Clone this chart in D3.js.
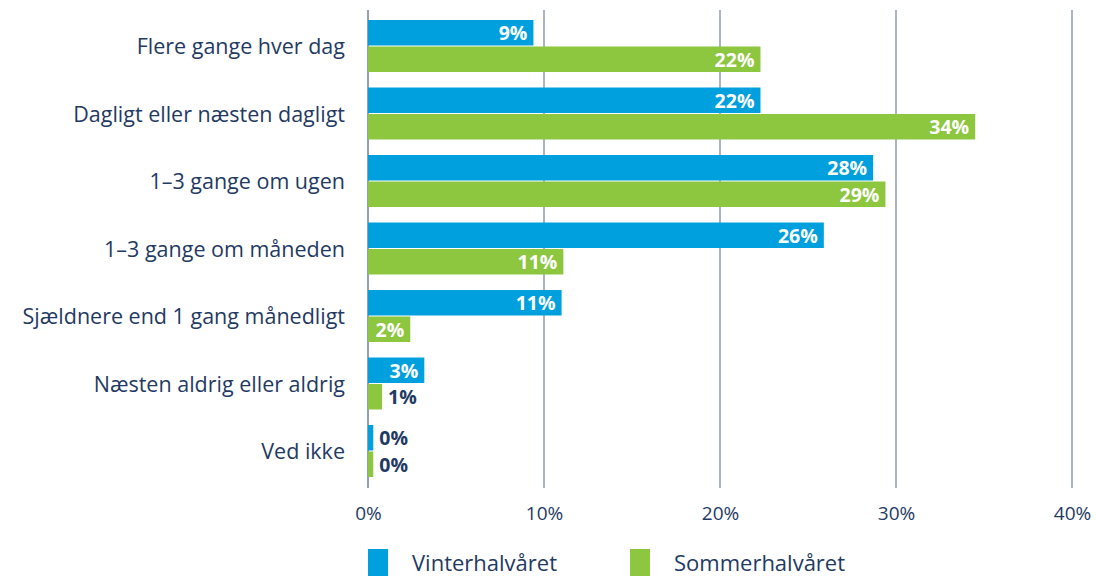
<!DOCTYPE html>
<html>
<head>
<meta charset="utf-8">
<script src="https://cdn.jsdelivr.net/npm/d3@7"></script>
<style>
  body { margin: 0; background: #fff; }
  svg { display: block; font-family: "Open Sans", sans-serif; }
</style>
</head>
<body>
<div id="chart"></div>
<script>
/* -----------------------
data
------------------------- */
var categories = ["Flere gange hver dag", "Dagligt eller næsten dagligt", "1–3 gange om ugen",
    "1–3 gange om måneden", "Sjældnere end 1 gang månedligt", "Næsten aldrig eller aldrig", "Ved ikke"];
var series = ["Vinterhalvåret", "Sommerhalvåret"];
var winter = [9.4, 22.3, 28.7, 25.9, 11.0, 3.2, 0.3];
var summer = [22.3, 34.5, 29.4, 11.1, 2.4, 0.8, 0.3];
var winterLabels = ["9%", "22%", "28%", "26%", "11%", "3%", "0%"];
var summerLabels = ["22%", "34%", "29%", "11%", "2%", "1%", "0%"];
var xTicks = [0, 10, 20, 30, 40];

/* -----------------------
setup
------------------------- */
var width = 1096, height = 576;
var colors = {"Vinterhalvåret": "#00a0df", "Sommerhalvåret": "#8dc63f"};
var navy = "#1f3a63";

var svg = d3.select("#chart").append("svg")
    .attr("width", width).attr("height", height);

var x = d3.scaleLinear().domain([0, 40]).range([368, 1072]);
var y = d3.scaleBand().domain(categories).range([20, 478]).paddingInner(0.215).paddingOuter(0);
var ySub = d3.scaleBand().domain(series).range([0, y.bandwidth()]);

// grid
svg.append("g").selectAll("line").data(xTicks).enter().append("line")
    .attr("x1", function(d) { return x(d); })
    .attr("x2", function(d) { return x(d); })
    .attr("y1", 10).attr("y2", 488)
    .attr("stroke", function(d) { return d === 0 ? "#6f7f99" : "#8c9bb2"; })
    .attr("stroke-width", 1.5);

// x axis labels
var xAxis = svg.append("g")
    .attr("transform", "translate(0,488)")
    .call(d3.axisBottom(x).tickValues(xTicks).tickSize(0).tickPadding(19)
        .tickFormat(function(d) { return d + "%"; }));
xAxis.select(".domain").remove();
xAxis.selectAll("text").attr("font-size", 19).attr("fill", navy)
    .attr("font-family", "\"Open Sans\", sans-serif");

// category labels
svg.append("g").selectAll("text").data(categories).enter().append("text")
    .attr("x", 345)
    .attr("y", function(d) { return y(d) + y.bandwidth() / 2; })
    .attr("dy", "0.35em")
    .attr("text-anchor", "end")
    .attr("font-size", 21.5)
    .attr("fill", navy)
    .text(function(d) { return d; });

// bars
var rows = [];
categories.forEach(function(c, i) {
    rows.push({cat: c, s: series[0], v: winter[i], lab: winterLabels[i]});
    rows.push({cat: c, s: series[1], v: summer[i], lab: summerLabels[i]});
});

svg.append("g").selectAll("rect").data(rows).enter().append("rect")
    .attr("x", x(0))
    .attr("y", function(d) { return y(d.cat) + ySub(d.s); })
    .attr("width", function(d) { return x(d.v) - x(0); })
    .attr("height", ySub.bandwidth() - 1)
    .attr("fill", function(d) { return colors[d.s]; });

svg.append("g").selectAll("text").data(rows).enter().append("text")
    .attr("x", function(d) {
        var w = x(d.v) - x(0);
        return w < 30 ? x(d.v) + 6 : x(d.v) - 6;
    })
    .attr("y", function(d) { return y(d.cat) + ySub(d.s) + ySub.bandwidth() / 2; })
    .attr("dy", "0.35em")
    .attr("text-anchor", function(d) { return x(d.v) - x(0) < 30 ? "start" : "end"; })
    .attr("font-size", 19.5)
    .attr("font-weight", "bold")
    .attr("fill", function(d) { return x(d.v) - x(0) < 30 ? navy : "#fff"; })
    .text(function(d) { return d.lab; });

// legend
var legend = svg.append("g").selectAll("g").data(series).enter().append("g")
    .attr("transform", function(d, i) { return "translate(" + (368 + i * 262) + ",549)"; });
legend.append("rect").attr("width", 20).attr("height", 28)
    .attr("fill", function(d) { return colors[d]; });
legend.append("text").attr("x", 44).attr("y", 14).attr("dy", "0.35em")
    .attr("font-size", 22).attr("fill", navy)
    .text(function(d) { return d; });
</script>
</body>
</html>
